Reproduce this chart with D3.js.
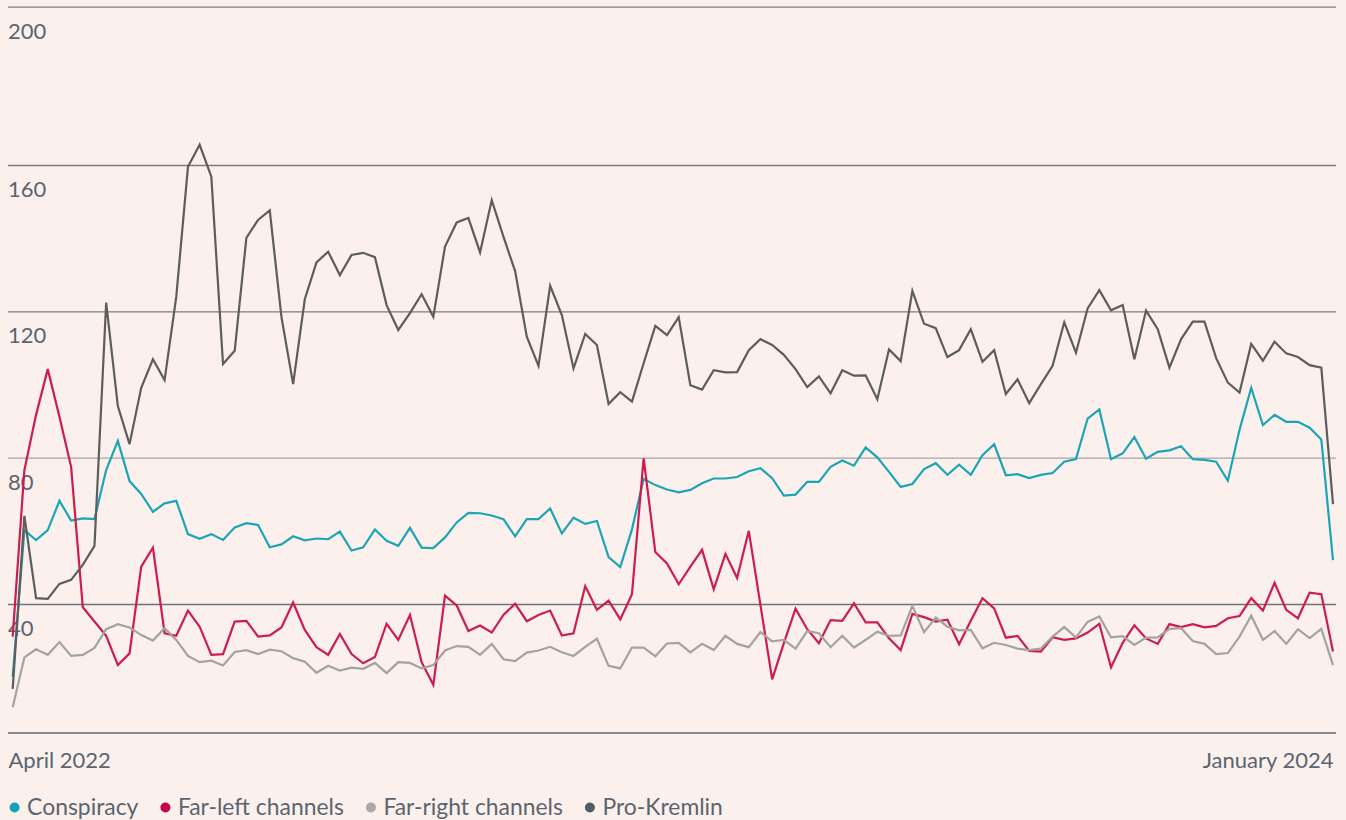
<!DOCTYPE html>
<html>
<head>
<meta charset="utf-8">
<script src="https://cdn.jsdelivr.net/npm/d3@7"></script>
<style>
body { margin: 0; background: #fcf0ed; }
svg { display: block; font-family: Lato, sans-serif; }
</style>
</head>
<body>
<div id="chart"></div>
<script>

// values, one per period, April 2022 -> January 2024
const conspiracy = [20.1, 60.2, 57.5, 60.2, 68.2, 62.8, 63.4, 63.2, 76.6, 84.6,
    73.6, 70.1, 65.2, 67.5, 68.2, 59.1, 57.8, 59.1, 57.5, 60.9,
    62.1, 61.6, 55.5, 56.3, 58.5, 57.4, 57.9, 57.7, 59.8, 54.6,
    55.5, 60.4, 57.3, 55.9, 60.8, 55.4, 55.3, 58.2, 62.3, 64.9,
    64.8, 64.2, 63.2, 58.5, 63.2, 63.2, 66.1, 59.3, 63.6, 61.9,
    62.7, 52.8, 50.1, 60.4, 74.2, 72.5, 71.3, 70.5, 71.2, 73.0,
    74.3, 74.3, 74.7, 76.3, 77.1, 74.4, 69.6, 69.9, 73.4, 73.4,
    77.5, 79.2, 77.8, 82.8, 80.1, 76.1, 72.0, 72.8, 76.9, 78.5,
    75.3, 78.1, 75.3, 80.7, 83.7, 75.2, 75.5, 74.4, 75.3, 75.8,
    78.9, 79.6, 90.7, 93.2, 79.6, 81.2, 85.6, 79.7, 81.6, 82.0,
    83.1, 79.6, 79.4, 78.9, 73.7, 87.6, 99.1, 88.9, 91.7, 89.8,
    89.8, 88.2, 85.0, 52.0];

const farLeft = [31.1, 76.6, 91.7, 104.2, 91.2, 77.5, 39.1, 35.2, 31.3, 23.3,
    26.5, 50.2, 55.4, 32.0, 31.3, 38.2, 33.8, 26.1, 26.3, 35.2,
    35.4, 31.1, 31.4, 33.6, 40.4, 32.9, 28.2, 26.1, 31.8, 26.3,
    23.8, 25.5, 34.6, 30.2, 37.0, 24.1, 17.9, 42.3, 39.6, 32.6,
    34.1, 32.2, 37.0, 40.1, 35.3, 37.0, 38.2, 31.4, 32.0, 44.9,
    38.4, 40.9, 35.8, 42.7, 79.8, 54.2, 51.1, 45.4, 50.2, 54.8,
    44.0, 53.7, 47.1, 60.0, 39.7, 19.4, 29.3, 38.7, 33.1, 29.3,
    35.6, 35.4, 40.2, 35.0, 35.0, 30.6, 27.4, 37.3, 36.4, 35.2,
    35.7, 29.0, 35.4, 41.6, 38.8, 30.8, 31.3, 27.2, 27.0, 30.9,
    30.2, 30.6, 32.2, 34.6, 22.7, 29.4, 34.2, 30.6, 29.1, 34.5,
    33.7, 34.5, 33.6, 34.0, 36.1, 36.7, 41.6, 38.2, 45.8, 38.4,
    36.1, 43.1, 42.7, 27.0];

const farRight = [11.8, 25.4, 27.6, 26.1, 29.6, 25.8, 26.1, 28.0, 33.1, 34.5,
    33.6, 31.5, 30.0, 33.4, 30.2, 25.8, 24.1, 24.5, 23.2, 26.9,
    27.4, 26.3, 27.5, 27.1, 25.2, 24.2, 21.2, 23.1, 21.8, 22.6,
    22.3, 23.9, 21.1, 24.1, 23.9, 22.4, 23.3, 27.3, 28.5, 28.3,
    26.1, 29.1, 24.9, 24.4, 26.7, 27.3, 28.3, 26.8, 25.8, 28.3,
    30.5, 23.1, 22.4, 28.1, 28.1, 25.7, 29.2, 29.4, 26.8, 29.1,
    27.4, 31.3, 29.1, 28.2, 32.3, 29.8, 30.2, 27.8, 32.6, 32.0,
    28.2, 31.3, 28.1, 30.2, 32.4, 31.3, 31.4, 39.5, 32.3, 36.3,
    33.8, 32.8, 32.9, 27.9, 29.4, 28.8, 27.8, 27.4, 27.8, 31.1,
    33.7, 30.9, 35.1, 36.6, 30.9, 31.2, 28.8, 30.8, 30.9, 33.2,
    33.4, 29.9, 29.1, 26.3, 26.6, 31.1, 36.8, 30.2, 32.6, 29.1,
    33.1, 30.7, 33.2, 23.3];

const proKremlin = [16.8, 64.1, 41.6, 41.4, 45.5, 46.6, 50.7, 55.9, 122.4, 94.1,
    83.7, 99.1, 106.9, 101.2, 124.0, 159.5, 165.1, 156.8, 105.6, 109.2,
    140.1, 145.0, 147.6, 118.5, 100.1, 123.3, 133.4, 136.3, 129.9, 135.4,
    136.0, 134.8, 121.7, 114.9, 119.5, 124.7, 118.5, 137.7, 144.3, 145.5,
    136.1, 150.4, 140.4, 131.0, 113.1, 105.1, 127.0, 119.0, 104.4, 113.8,
    110.8, 94.7, 97.9, 95.3, 105.8, 116.0, 113.5, 118.4, 99.8, 98.6,
    103.9, 103.3, 103.4, 109.4, 112.4, 110.8, 108.1, 104.2, 99.3, 102.2,
    97.6, 103.9, 102.4, 102.5, 96.0, 109.6, 106.4, 125.6, 116.6, 115.4,
    107.5, 109.4, 115.1, 106.2, 109.4, 97.4, 101.4, 94.9, 100.1, 105.1,
    117.0, 108.7, 120.8, 125.8, 120.3, 121.7, 106.9, 120.2, 115.1, 104.6,
    112.4, 117.2, 117.2, 107.2, 100.5, 97.8, 111.1, 106.5, 111.7, 108.5,
    107.5, 105.3, 104.6, 67.3];

const seriesNames = ["Conspiracy", "Far-left channels", "Far-right channels", "Pro-Kremlin"];
const yTicks = [40, 80, 120, 160, 200];
const xLabels = ["April 2022", "January 2024"];

const lineColors = ["#1ba5b7", "#cc1c50", "#a3a3a3", "#5d5d5d"];
const dotColors = ["#0fa5b9", "#c8024c", "#a9a9a9", "#505d68"];
const textColor = "#5a6570";

const width = 1346;
const height = 820;
const plot = {l: 8, r: 1336, t: 7, b: 733};

const svg = d3.select("#chart")
    .append("svg")
    .attr("width", width)
    .attr("height", height)
    .style("background-color", "#fcf0ed");

const allSeries = [conspiracy, farLeft, farRight, proKremlin];
const n = proKremlin.length;

//x: one step per period
const xScale = d3.scaleLinear()
    .domain([0, n - 1])
    .range([12.7, 1333]);

//y: top band of the reference is drawn a little taller than the rest
const yScale = d3.scaleLinear()
    .domain([40, 160, 200])
    .range([604, 165, 6.7]);

//grid + y labels
const gridColor = d => d === 80 ? "#a5a5a5" : (d === 40 ? "#69737c" : "#7c7c7c");
const y_axis = d3.axisRight(yScale)
    .tickValues(yTicks)
    .tickSize(plot.r - plot.l)
    .tickFormat(d3.format("d"));
svg.append("g")
    .attr("class", "axis")
    .attr("transform", `translate(${plot.l}, 0)`)
    .call(y_axis)
    .call(g => g.select(".domain").remove())
    .call(g => g.selectAll(".tick line")
        .attr("stroke", d => gridColor(d))
        .attr("stroke-width", 1.3))
    .call(g => g.selectAll(".tick text")
        .attr("x", 0)
        .attr("dy", 31.5)
        .attr("text-anchor", "start")
        .attr("fill", textColor)
        .attr("font-family", "Lato, sans-serif")
        .attr("font-size", "22px"));

//baseline
svg.append("line")
    .attr("x1", plot.l)
    .attr("x2", plot.r)
    .attr("y1", plot.b)
    .attr("y2", plot.b)
    .attr("stroke", "#5f6972")
    .attr("stroke-width", 1.3);

//x labels, first and last period only
const x_axis = d3.axisBottom(xScale)
    .tickValues([0, n - 1])
    .tickSize(0)
    .tickFormat((d, i) => xLabels[i]);
svg.append("g")
    .attr("class", "axis")
    .attr("transform", `translate(0, ${plot.b})`)
    .call(x_axis)
    .call(g => g.select(".domain").remove())
    .call(g => g.selectAll(".tick text")
        .attr("y", 0)
        .attr("dy", 35)
        .attr("fill", textColor)
        .attr("font-family", "Lato, sans-serif")
        .attr("font-size", "22px")
        .attr("text-anchor", (d, i) => i === 0 ? "start" : "end")
        .attr("x", (d, i) => i === 0 ? plot.l - xScale(0) : 0));

const makeLine = d3.line()
    .x((d, i) => xScale(i))
    .y(d => yScale(d));

for (let i = 0; i < allSeries.length; i++) {
    svg.append("path")
        .attr("fill", "none")
        .attr("stroke", lineColors[i])
        .attr("stroke-width", 2.2)
        .attr("stroke-linejoin", "miter")
        .attr("d", makeLine(allSeries[i]));
}

//legend
const legend = svg.append("g").attr("class", "legend");
let lx = 14.6;
seriesNames.forEach((name, i) => {
    legend.append("circle")
        .attr("cx", lx)
        .attr("cy", 807.5)
        .attr("r", 5)
        .attr("fill", dotColors[i]);
    const t = legend.append("text")
        .attr("x", lx + 12.5)
        .attr("y", 814.5)
        .attr("fill", textColor)
        .attr("font-size", "22.9px")
        .text(name);
    lx += 12.5 + t.node().getComputedTextLength() + 27;
});

</script>
</body>
</html>
